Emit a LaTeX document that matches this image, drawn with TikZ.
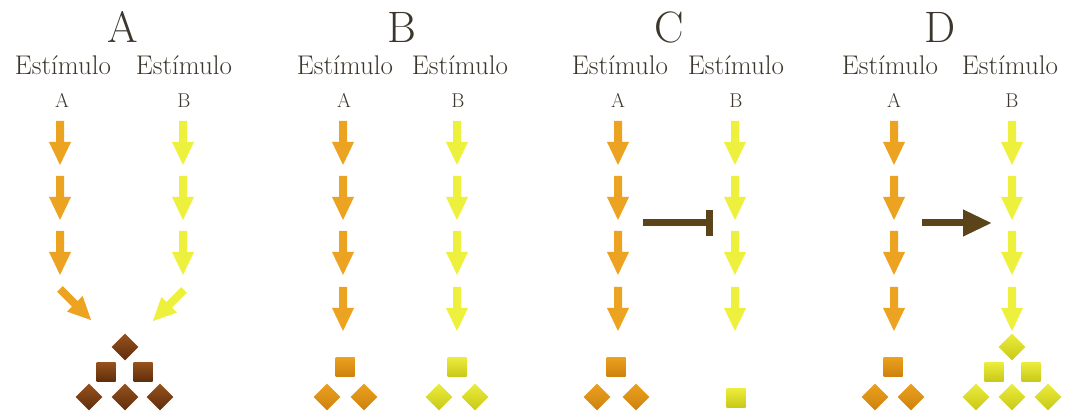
\documentclass[tikz,border=0pt]{standalone}
\usepackage{tikz}
\usetikzlibrary{arrows.meta,positioning}

\definecolor{Ink}{RGB}{60,54,44}
\definecolor{ArrA}{RGB}{236,163,34}
\definecolor{ArrB}{RGB}{238,240,62}
\definecolor{Link}{RGB}{92,68,26}
\definecolor{BrwHi}{RGB}{150,82,28}
\definecolor{BrwLo}{RGB}{95,45,12}
\definecolor{OrgHi}{RGB}{236,160,30}
\definecolor{OrgLo}{RGB}{205,130,15}
\definecolor{YelHi}{RGB}{236,236,60}
\definecolor{YelLo}{RGB}{200,200,25}

\tikzset{fatarrow/.pic={
	\fill[pic actions] (-4,0) -- (4,0) -- (4,21) -- (11,21) -- (0,44) -- (-11,21) -- (-4,21) -- cycle;
}}

\begin{document}
\begin{tikzpicture}[x=1pt,y=-1pt]
		\tikzstyle{Title}	= [font=\fontsize{44}{44}\selectfont, text=Ink, anchor=base]
		\tikzstyle{Stim}	= [font=\fontsize{27}{27}\selectfont, text=Ink, anchor=base]
		\tikzstyle{Tag}		= [font=\fontsize{20}{20}\selectfont, text=Ink, anchor=base]
		\tikzstyle{Sq}		= [rectangle, minimum size=19pt, inner sep=0pt, shading angle=0]
		\tikzstyle{Dm}		= [Sq, rotate=45]
		\tikzstyle{Brw}		= [top color=BrwHi, bottom color=BrwLo]
		\tikzstyle{Org}		= [top color=OrgHi, bottom color=OrgLo]
		\tikzstyle{Yel}		= [top color=YelHi, bottom color=YelLo]
		\tikzstyle{Inh}		= [line width=7pt, Link, -{Bar[width=26pt]}]
		\tikzstyle{Act}		= [line width=7pt, Link, -{Triangle[length=29pt,width=25pt]}]

		\useasboundingbox (0,0) rectangle (1068,419);

		% titles
		\node (tA) at (123,43) [Title] {A};
		\node (tB) at (402,43) [Title] {B};
		\node (tC) at (669,43) [Title] {C};
		\node (tD) at (940,43) [Title] {D};

		% stimulus labels
		\node (sA1) at (63,75) [Stim] {Estímulo};
		\node (sA2) at (184,75) [Stim] {Estímulo};
		\node (sB1) at (345,75) [Stim] {Estímulo};
		\node (sB2) at (460,75) [Stim] {Estímulo};
		\node (sC1) at (620,75) [Stim] {Estímulo};
		\node (sC2) at (736,75) [Stim] {Estímulo};
		\node (sD1) at (890,75) [Stim] {Estímulo};
		\node (sD2) at (1010,75) [Stim] {Estímulo};

		\node (gA1) at (62,108) [Tag] {A};
		\node (gA2) at (184,108) [Tag] {B};
		\node (gB1) at (344,108) [Tag] {A};
		\node (gB2) at (458,108) [Tag] {B};
		\node (gC1) at (618,108) [Tag] {A};
		\node (gC2) at (736,108) [Tag] {B};
		\node (gD1) at (894,108) [Tag] {A};
		\node (gD2) at (1012,108) [Tag] {B};

		% panel A
		\pic[fill=ArrA] (aA1) at (60,121) {fatarrow};
		\pic[fill=ArrA] (aA2) at (60,176) {fatarrow};
		\pic[fill=ArrA] (aA3) at (60,231) {fatarrow};
		\pic[fill=ArrA, rotate=45] (aA4) at (60,289) {fatarrow};
		\pic[fill=ArrB] (bA1) at (183,121) {fatarrow};
		\pic[fill=ArrB] (bA2) at (183,176) {fatarrow};
		\pic[fill=ArrB] (bA3) at (183,231) {fatarrow};
		\pic[fill=ArrB, rotate=-45] (bA4) at (184,290) {fatarrow};

		\node (pA1) at (125,347) [Dm][Brw] {};
		\node (pA2) at (106,372) [Sq][Brw] {};
		\node (pA3) at (143,372) [Sq][Brw] {};
		\node (pA4) at (89,397) [Dm][Brw] {};
		\node (pA5) at (125,397) [Dm][Brw] {};
		\node (pA6) at (160,397) [Dm][Brw] {};

		% panel B
		\pic[fill=ArrA] (aB1) at (343,121) {fatarrow};
		\pic[fill=ArrA] (aB2) at (343,176) {fatarrow};
		\pic[fill=ArrA] (aB3) at (343,231) {fatarrow};
		\pic[fill=ArrA] (aB4) at (343,287) {fatarrow};
		\pic[fill=ArrB] (bB1) at (457,121) {fatarrow};
		\pic[fill=ArrB] (bB2) at (457,176) {fatarrow};
		\pic[fill=ArrB] (bB3) at (457,231) {fatarrow};
		\pic[fill=ArrB] (bB4) at (457,287) {fatarrow};

		\node (pB1) at (345,367) [Sq][Org] {};
		\node (pB2) at (327,397) [Dm][Org] {};
		\node (pB3) at (364,397) [Dm][Org] {};
		\node (qB1) at (457,367) [Sq][Yel] {};
		\node (qB2) at (439,397) [Dm][Yel] {};
		\node (qB3) at (475,397) [Dm][Yel] {};

		% panel C
		\pic[fill=ArrA] (aC1) at (618,121) {fatarrow};
		\pic[fill=ArrA] (aC2) at (618,176) {fatarrow};
		\pic[fill=ArrA] (aC3) at (618,231) {fatarrow};
		\pic[fill=ArrA] (aC4) at (618,287) {fatarrow};
		\pic[fill=ArrB] (bC1) at (735,121) {fatarrow};
		\pic[fill=ArrB] (bC2) at (735,176) {fatarrow};
		\pic[fill=ArrB] (bC3) at (735,231) {fatarrow};
		\pic[fill=ArrB] (bC4) at (735,287) {fatarrow};

		\node (pC1) at (616,367) [Sq][Org] {};
		\node (pC2) at (597,397) [Dm][Org] {};
		\node (pC3) at (636,397) [Dm][Org] {};
		\node (qC1) at (736,398) [Sq][Yel] {};

		\coordinate (inhS) at (643,223);
		\coordinate (inhE) at (713,223);
		\draw (inhS) -- (inhE) [Inh];

		% panel D
		\pic[fill=ArrA] (aD1) at (894,121) {fatarrow};
		\pic[fill=ArrA] (aD2) at (894,176) {fatarrow};
		\pic[fill=ArrA] (aD3) at (894,231) {fatarrow};
		\pic[fill=ArrA] (aD4) at (894,287) {fatarrow};
		\pic[fill=ArrB] (bD1) at (1012,121) {fatarrow};
		\pic[fill=ArrB] (bD2) at (1012,176) {fatarrow};
		\pic[fill=ArrB] (bD3) at (1012,231) {fatarrow};
		\pic[fill=ArrB] (bD4) at (1012,287) {fatarrow};

		\node (pD1) at (893,367) [Sq][Org] {};
		\node (pD2) at (875,397) [Dm][Org] {};
		\node (pD3) at (911,397) [Dm][Org] {};
		\node (qD1) at (1012,347) [Dm][Yel] {};
		\node (qD2) at (994,372) [Sq][Yel] {};
		\node (qD3) at (1031,372) [Sq][Yel] {};
		\node (qD4) at (976,397) [Dm][Yel] {};
		\node (qD5) at (1012,397) [Dm][Yel] {};
		\node (qD6) at (1048,397) [Dm][Yel] {};

		\coordinate (actS) at (922,223);
		\coordinate (actE) at (992,223);
		\draw (actS) -- (actE) [Act];
	\end{tikzpicture}
\end{document}
